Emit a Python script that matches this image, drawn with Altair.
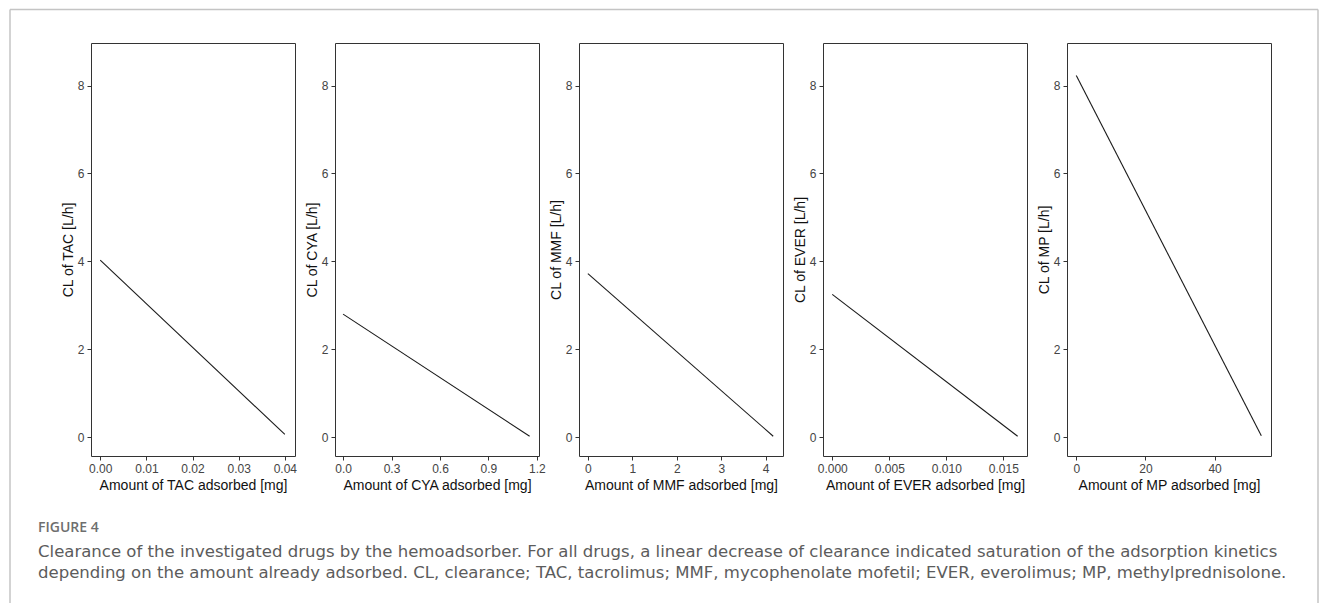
import altair as alt
import pandas as pd

# ---- data ----
drugs = ["TAC", "CYA", "MMF", "EVER", "MP"]
x_start = [0.0, 0.0, 0.0, 0.0, 0.0]
x_end = [0.04, 1.155, 4.17, 0.01625, 53.5]
cl_start = [4.03, 2.80, 3.72, 3.25, 8.23]
cl_end = [0.06, 0.02, 0.02, 0.02, 0.03]
x_domains = [[-0.002, 0.0422], [-0.05, 1.213], [-0.2, 4.39], [-0.00081, 0.01707], [-2.68, 56.3]]
x_ticks = [[0, 0.01, 0.02, 0.03, 0.04], [0, 0.3, 0.6, 0.9, 1.2], [0, 1, 2, 3, 4],
           [0, 0.005, 0.010, 0.015], [0, 20, 40]]
x_formats = [".2f", ".1f", "d", ".3f", "d"]
y_domain = [-0.43, 8.97]
y_ticks = [0, 2, 4, 6, 8]

caption_head = "FIGURE 4"
caption_l1 = ("Clearance of the investigated drugs by the hemoadsorber. For all drugs, a linear "
              "decrease of clearance indicated saturation of the adsorption kinetics")
caption_l2 = ("depending on the amount already adsorbed. CL, clearance; TAC, tacrolimus; MMF, "
              "mycophenolate mofetil; EVER, everolimus; MP, methylprednisolone.")

AX_FONT = "Liberation Sans"
CAP_FONT = "DejaVu Sans"

FX_L, FX_R, FY_T, FY_B = -81, 1227, -33.6, 560

panels = []
for i, d in enumerate(drugs):
    df = pd.DataFrame({"x": [x_start[i], x_end[i]], "y": [cl_start[i], cl_end[i]]})
    line = alt.Chart(df).mark_line(color="#1a1a1a", strokeWidth=1.1).encode(
        x=alt.X("x:Q",
                scale=alt.Scale(domain=x_domains[i], nice=False, zero=False),
                axis=alt.Axis(values=x_ticks[i], format=x_formats[i],
                              title=f"Amount of {d} adsorbed [mg]")),
        y=alt.Y("y:Q",
                scale=alt.Scale(domain=y_domain, nice=False, zero=False),
                axis=alt.Axis(values=y_ticks, format="d",
                              title=f"CL of {d} [L/h]")),
    )
    if i == 0:
        one = pd.DataFrame({"k": [0]})
        frame_top = alt.Chart(one).mark_rule(color="#c4c4c4", strokeWidth=1.5).encode(
            x=alt.value(FX_L), x2=alt.value(FX_R), y=alt.value(FY_T))
        frame_left = alt.Chart(one).mark_rule(color="#c4c4c4", strokeWidth=1.5).encode(
            x=alt.value(FX_L), y=alt.value(FY_T), y2=alt.value(FY_B))
        frame_right = alt.Chart(one).mark_rule(color="#c4c4c4", strokeWidth=1.5).encode(
            x=alt.value(FX_R), y=alt.value(FY_T), y2=alt.value(FY_B))
        head = alt.Chart(one).mark_text(
            align="left", baseline="alphabetic", font="Open Sans", fontSize=14,
            fontWeight=600, color="#6e6e6e").encode(
            x=alt.value(-53), y=alt.value(489.4), text=alt.value(caption_head))
        l1 = alt.Chart(one).mark_text(
            align="left", baseline="alphabetic", font=CAP_FONT, fontSize=16.55,
            color="#5c5c5c").encode(
            x=alt.value(-53), y=alt.value(514), text=alt.value(caption_l1))
        l2 = alt.Chart(one).mark_text(
            align="left", baseline="alphabetic", font=CAP_FONT, fontSize=16.55,
            color="#5c5c5c").encode(
            x=alt.value(-53), y=alt.value(534.5), text=alt.value(caption_l2))
        panel = alt.layer(frame_top, frame_left, frame_right, head, l1, l2, line)
    else:
        panel = line
    panels.append(panel.properties(width=204, height=413))

chart = alt.hconcat(*panels, spacing=40, bounds="flush").properties(
    padding=0, background="white"
).configure_view(
    stroke="#333333", strokeWidth=1
).configure_axis(
    domain=False, grid=False,
    tickColor="#333333", tickSize=4, tickWidth=1,
    labelFont=AX_FONT, labelFontSize=12, labelColor="#444444", labelPadding=3,
    titleFont=AX_FONT, titleFontSize=14, titleFontWeight="normal", titleColor="#111111",
).configure_axisX(titlePadding=4).configure_axisY(titlePadding=2)

chart.save("out.html", embed_options={"renderer": "svg", "actions": False})
